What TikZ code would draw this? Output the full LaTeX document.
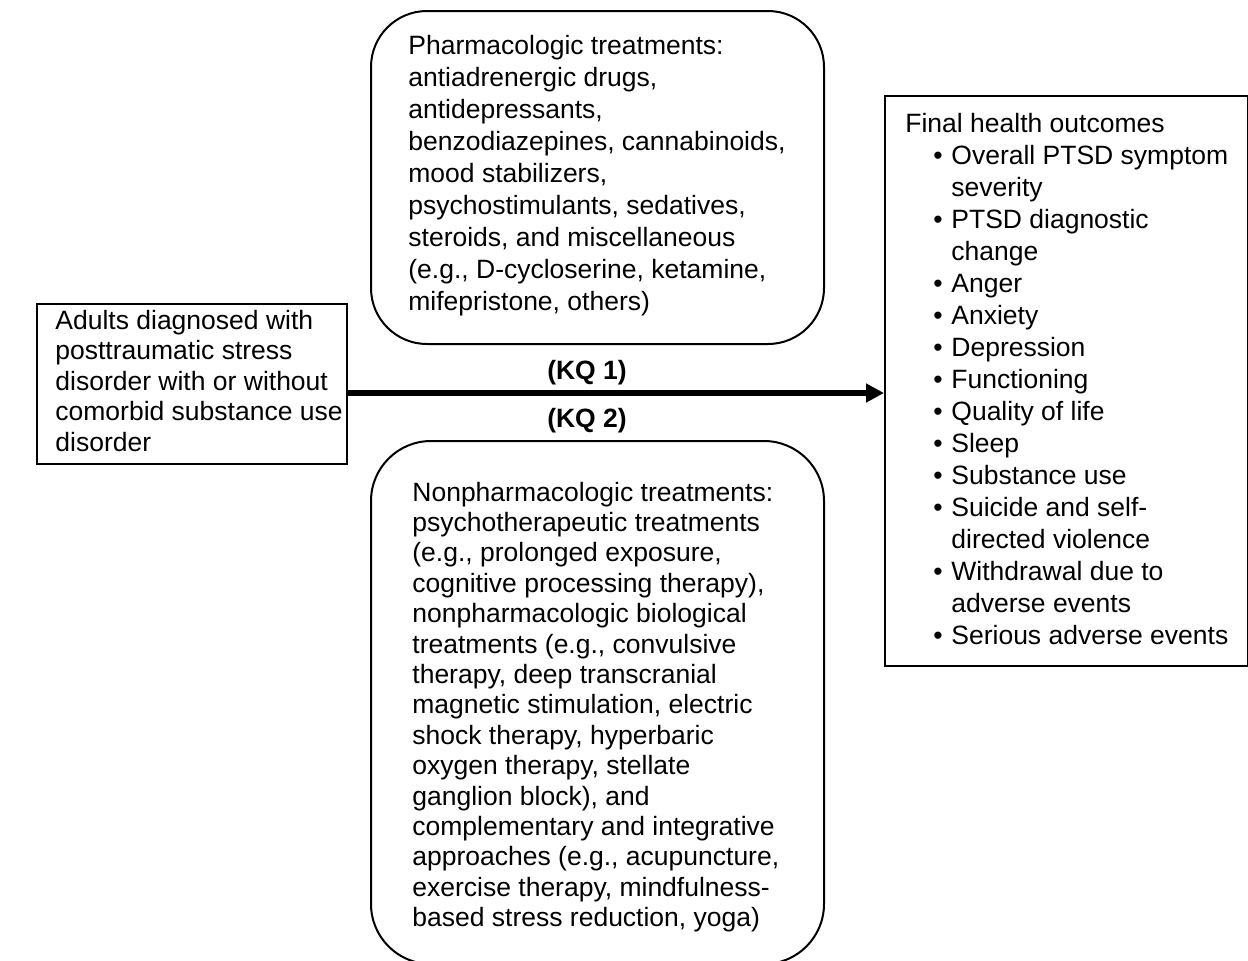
\documentclass[tikz,border=0pt]{standalone}
\usepackage{fontspec}
\setmainfont{Liberation Sans}
\usetikzlibrary{arrows.meta}
\newcommand\tblock[3]{\parbox[t]{#1}{\fontsize{13.25pt}{#2}\selectfont\raggedright #3}}
\newcommand\bul{\hspace*{14pt}\makebox[9pt][l]{\textbullet}}
\newcommand\cnt{\hspace*{23pt}}
\begin{document}
\begin{tikzpicture}[x=0.5pt,y=-0.5pt,
  rectbox/.style={draw, line width=0.75pt, inner sep=0pt, anchor=north west},
  roundbox/.style={rectbox, line width=1pt, rounded corners=28pt},
  txt/.style={anchor=base west, inner sep=0pt},
  kq/.style={inner sep=0pt, font=\fontsize{13.25pt}{16pt}\selectfont\bfseries},
  flow/.style={line width=2.8pt, -{Triangle[length=9pt,width=9pt]}}]
\useasboundingbox (0,0) rectangle (1248,960);
% boxes
\node[rectbox, minimum width=155pt, minimum height=80pt] (pop) at (36,303) {};
\node[roundbox, minimum width=226.5pt, minimum height=166.5pt] (pharm) at (370,10) {};
\node[roundbox, rounded corners=30pt, minimum width=226.5pt, minimum height=261.5pt] (nonph) at (370,440) {};
\node[rectbox, minimum width=181.5pt, minimum height=285pt] (out) at (884,95) {};
% texts
\node[txt] (poptxt) at (55,329) {\tblock{160pt}{15.25pt}{Adults diagnosed with\\posttraumatic stress\\disorder with or without\\comorbid substance use\\disorder}};
\node[txt] (pharmtxt) at (408,54) {\tblock{215pt}{16pt}{Pharmacologic treatments:\\antiadrenergic drugs,\\antidepressants,\\benzodiazepines, cannabinoids,\\mood stabilizers,\\psychostimulants, sedatives,\\steroids, and miscellaneous\\(e.g., D-cycloserine, ketamine,\\mifepristone, others)}};
\node[txt] (nonphtxt) at (412,501) {\tblock{215pt}{15.2pt}{Nonpharmacologic treatments:\\psychotherapeutic treatments\\(e.g., prolonged exposure,\\cognitive processing therapy),\\nonpharmacologic biological\\treatments (e.g., convulsive\\therapy, deep transcranial\\magnetic stimulation, electric\\shock therapy, hyperbaric\\oxygen therapy, stellate\\ganglion block), and\\complementary and integrative\\approaches (e.g., acupuncture,\\exercise therapy, mindfulness-\\based stress reduction, yoga)}};
\node[txt] (outtxt) at (905,132) {\tblock{170pt}{16pt}{Final health outcomes\\
\bul Overall PTSD symptom\\\cnt severity\\
\bul PTSD diagnostic\\\cnt change\\
\bul Anger\\
\bul Anxiety\\
\bul Depression\\
\bul Functioning\\
\bul Quality of life\\
\bul Sleep\\
\bul Substance use\\
\bul Suicide and self-\\\cnt directed violence\\
\bul Withdrawal due to\\\cnt adverse events\\
\bul Serious adverse events}};
% key questions
\node[kq] (kq1) at (587,373) {(KQ 1)};
\node[kq] (kq2) at (587,421) {(KQ 2)};
% connector
\coordinate (ay) at (0,393);
\draw[flow] (pop.east |- ay) -- (out.west |- ay);
\end{tikzpicture}
\end{document}
